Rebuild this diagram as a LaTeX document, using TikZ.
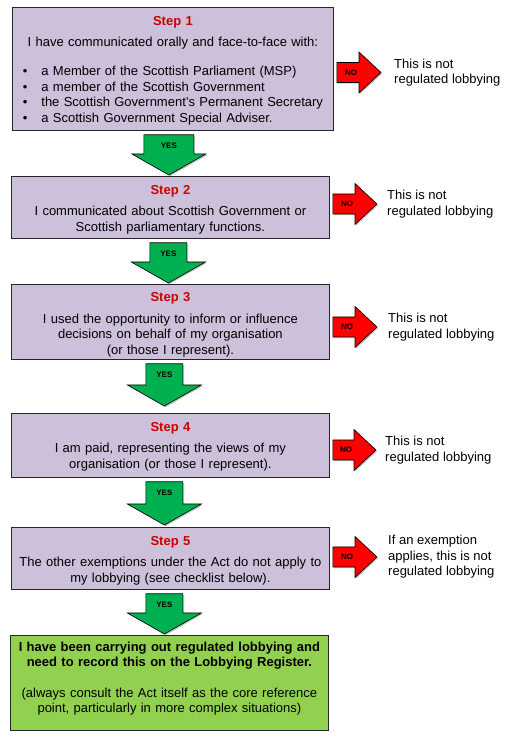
\documentclass[tikz,border=0pt]{standalone}
\usepackage{fontspec}
\setmainfont{Liberation Sans}
\usetikzlibrary{calc,%
                shadows,%
                positioning}

\definecolor{steplilac}{HTML}{CCC0DA}
\definecolor{stepred}{HTML}{CC0000}
\definecolor{yesgreen}{HTML}{00B050}
\definecolor{nored}{HTML}{FF0000}
\definecolor{donegreen}{HTML}{92D050}
\renewcommand{\arraystretch}{1.03}

\begin{document}
\begin{tikzpicture}[x=1pt, y=1pt,
stepbox/.style={rectangle, draw=black!85, fill=steplilac, line width=.8pt,
text width=#1, align=center, anchor=north west, inner sep=0pt,
font=\fontsize{13}{15.5}\selectfont},
%
finalbox/.style={stepbox=#1, fill=donegreen},
%
verdict/.style={anchor=west, align=left, inner sep=0pt,
font=\fontsize{13}{15.5}\selectfont},
%
yesarrow/.style={draw=black, fill=yesgreen, line width=.6pt,
drop shadow={shadow xshift=1.2pt, shadow yshift=-1.2pt, opacity=.45}},
%
noarrow/.style={draw=black, fill=nored, line width=.6pt,
drop shadow={shadow xshift=1.2pt, shadow yshift=-1.2pt, opacity=.45}},
%
answer/.style={font=\fontsize{8}{9}\selectfont\bfseries, inner sep=0pt}]

\useasboundingbox (0,0) rectangle (511,746);

\begin{scope}
  \node[stepbox=321pt, minimum height=123pt] (s1) at (12,739) {%
    \rule{0pt}{15pt}{\color{stepred}\bfseries Step 1}\\[6pt]
    I have communicated orally and face-to-face with:\\[13pt]
    \begin{tabular}[t]{@{}l@{\hspace{14pt}}l@{}}
      \textbullet & a Member of the Scottish Parliament (MSP)\\
      \textbullet & a member of the Scottish Government\\
      \textbullet & the Scottish Government’s Permanent Secretary\\
      \textbullet & a Scottish Government Special Adviser.
    \end{tabular}};
  %%%%%%%%%%%%%%%%%%%%%%%%%%%%%%%%%%
  \node[stepbox=318pt, minimum height=62pt] (s2) at (11,570) {%
    \rule{0pt}{13.5pt}{\color{stepred}\bfseries Step 2}\\[6pt]
    I communicated about Scottish Government or\\
    Scottish parliamentary functions.};
  %%%%%%%%%%%%%%%%%%%%%%%%%%%%%%%%%%
  \node[stepbox=318pt, minimum height=75pt] (s3) at (11,462) {%
    \rule{0pt}{14.5pt}{\color{stepred}\bfseries Step 3}\\[6pt]
    I used the opportunity to inform or influence\\
    decisions on behalf of my organisation\\
    (or those I represent).};
  %%%%%%%%%%%%%%%%%%%%%%%%%%%%%%%%%%
  \node[stepbox=318pt, minimum height=64pt] (s4) at (11,333) {%
    \rule{0pt}{11pt}{\color{stepred}\bfseries Step 4}\\[6pt]
    I am paid, representing the views of my\\
    organisation (or those I represent).};
  %%%%%%%%%%%%%%%%%%%%%%%%%%%%%%%%%%
  \node[stepbox=318pt, minimum height=62pt] (s5) at (11,219) {%
    \rule{0pt}{13.5pt}{\color{stepred}\bfseries Step 5}\\[6pt]
    The other exemptions under the Act do not apply to\\
    my lobbying (see checklist below).};
  %%%%%%%%%%%%%%%%%%%%%%%%%%%%%%%%%%
  \node[finalbox=318pt, minimum height=95pt] (done) at (10,111) {%
    \rule{0pt}{13.5pt}{\bfseries I have been carrying out regulated lobbying and\\
    need to record this on the Lobbying Register.}\\[15pt]
    (always consult the Act itself as the core reference\\
    point, particularly in more complex situations)\\\null};
\end{scope}

\begin{scope}
  \node[verdict] (n1) at (394,673.5) {This is not\\regulated lobbying};
  \node[verdict] (n2) at (387,542) {This is not\\regulated lobbying};
  \node[verdict] (n3) at (388,419) {This is not\\regulated lobbying};
  \node[verdict] (n4) at (385,296) {This is not\\regulated lobbying};
  \node[verdict] (n5) at (388,189) {If an exemption\\applies, this is not\\regulated lobbying};
\end{scope}

\begin{scope}
  % YES arrows between the steps
  \foreach \a/\b/\w/\dx/\tip in {s1/s2/25/-4/1, s2/s3/18.5/-2/1, s3/s4/18.5/-6/7,
                                 s4/s5/18.5/-6/2, s5/done/18.5/-6/1}{
    \draw[yesarrow] let \p1=(\a.south), \p2=(\b.north) in
      (\x1+\dx-\w,\y1-4) -- (\x1+\dx+\w,\y1-4) -- (\x1+\dx+\w,\y2+\tip+21)
      -- (\x1+\dx+37,\y2+\tip+21) -- (\x1+\dx,\y2+\tip) -- (\x1+\dx-37,\y2+\tip+21)
      -- (\x1+\dx-\w,\y2+\tip+21) -- cycle;
    \path let \p1=(\a.south) in node[answer] at (\x1+\dx,\y1-14.5) {YES};
  }
  %%%%%%%%%%%%%%%%%%%%%%%%%%%%%%%%%%%%
  % NO arrows to the verdicts
  \foreach \a/\b/\gap in {s1/n1/13, s2/n2/10, s3/n3/11, s4/n4/9, s5/n5/11}{
    \draw[noarrow] let \p1=(\a.east), \p2=(\b.west) in
      (\x1+3,\y2+10) -- (\x2-\gap-22,\y2+10) -- (\x2-\gap-22,\y2+20.5)
      -- (\x2-\gap,\y2) -- (\x2-\gap-22,\y2-20.5) -- (\x2-\gap-22,\y2-10)
      -- (\x1+3,\y2-10) -- cycle;
    \path let \p2=(\b.west) in node[answer] at (\x2-\gap-30,\y2) {NO};
  }
\end{scope}

\end{tikzpicture}
\end{document}
